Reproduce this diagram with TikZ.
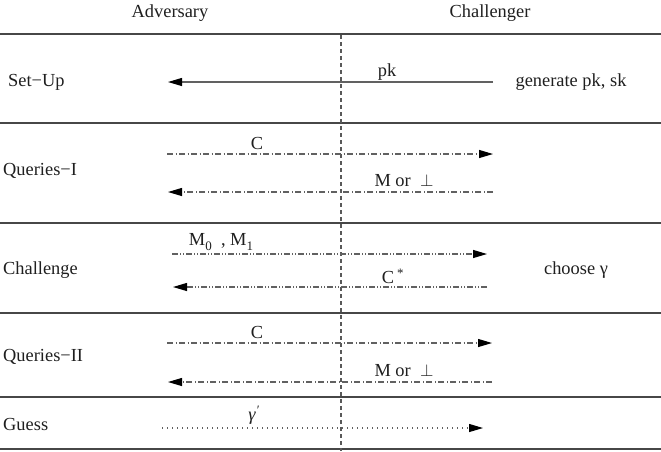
\documentclass[tikz,border=0pt]{standalone}
\usepackage{fontspec}
\setmainfont{Liberation Serif}
\usetikzlibrary{arrows.meta}
\newcommand{\lowsub}[1]{\raisebox{-0.5ex}{\fontsize{13}{13}\selectfont #1}}

\begin{document}
\begin{tikzpicture}[x=1pt,y=-1pt]

    \tikzstyle{every node}=[inner sep=0pt,text=black!88,font=\fontsize{18.4}{22}\selectfont]
    \tikzstyle{rule}=[line width=1.3pt,black!72]
    \tikzstyle{msg}=[line width=1.1pt,black!62,-{Triangle[length=14pt,width=8pt,color=black]}]
    \tikzstyle{dashdot}=[dash pattern=on 6pt off 2.5pt on 1pt off 2.5pt]
    \tikzstyle{dashdotdot}=[dash pattern=on 6pt off 2pt on 1pt off 2pt on 1pt off 2pt]
    \tikzstyle{dots}=[dash pattern=on 1pt off 4pt]

    \useasboundingbox (0,0) rectangle (661,451);

    % heading
    \node(adv) at (170,13){Adversary};
    \node(chal) at (490,13){Challenger};

    % phase names
    \node[anchor=west](setup) at (8,82){Set−Up};
    \node[anchor=west](q1) at (3,171){Queries−I};
    \node[anchor=west](chall) at (3,270){Challenge};
    \node[anchor=west](q2) at (3,357){Queries−II};
    \node[anchor=west](guess) at (3,424){Guess};

    % rules between phases
    \coordinate (r0l) at (0,34);  \coordinate (r0r) at (661,34);
    \coordinate (r1l) at (0,123); \coordinate (r1r) at (661,123);
    \coordinate (r2l) at (0,223); \coordinate (r2r) at (661,223);
    \coordinate (r3l) at (0,313); \coordinate (r3r) at (661,313);
    \coordinate (r4l) at (0,397); \coordinate (r4r) at (661,397);
    \coordinate (r5l) at (0,449); \coordinate (r5r) at (661,449);
    \draw[rule](r0l)--(r0r);
    \draw[rule](r1l)--(r1r);
    \draw[rule](r2l)--(r2r);
    \draw[rule](r3l)--(r3r);
    \draw[rule](r4l)--(r4r);
    \draw[rule](r5l)--(r5r);

    % middle line
    \coordinate (midt) at (341,35);
    \coordinate (midb) at (341,451);
    \draw[line width=1.1pt,black!65,dash pattern=on 4pt off 3pt](midt)--(midb);

    % set-up
    \coordinate (a1) at (493,82);  \coordinate (b1) at (168,82);
    \draw[msg](a1)--(b1);
    \node(pk) at (387,72){pk};
    \node(gen) at (571,82){generate pk, sk};

    % queries I
    \coordinate (a2) at (167,154); \coordinate (b2) at (493,154);
    \coordinate (a3) at (493,192); \coordinate (b3) at (168,192);
    \draw[msg,dashdot](a2)--(b2);
    \draw[msg,dashdot](a3)--(b3);
    \node(c1) at (257,143){C};
    \node(mp1) at (404,181){M or \ $\perp$};

    % challenge
    \coordinate (a4) at (172,254); \coordinate (b4) at (487,254);
    \coordinate (a5) at (487,287); \coordinate (b5) at (173,287);
    \draw[msg,dashdotdot](a4)--(b4);
    \draw[msg,dashdotdot](a5)--(b5);
    \node(m01) at (221,242){M\lowsub{0} \ , M\lowsub{1}};
    \node(cstar) at (393,276){C\,\textsuperscript{*}};
    \node(choose) at (576,270){choose γ};

    % queries II
    \coordinate (a6) at (167,343); \coordinate (b6) at (492,343);
    \coordinate (a7) at (492,382); \coordinate (b7) at (168,382);
    \draw[msg,dashdot](a6)--(b6);
    \draw[msg,dashdot](a7)--(b7);
    \node(c2) at (257,332){C};
    \node(mp2) at (404,371){M or \ $\perp$};

    % guess
    \coordinate (a8) at (162,428); \coordinate (b8) at (483,428);
    \draw[msg,dots](a8)--(b8);
    \node(gam) at (254,415){\textit{γ}\textsuperscript{\textit{′}}};

\end{tikzpicture}
\end{document}
